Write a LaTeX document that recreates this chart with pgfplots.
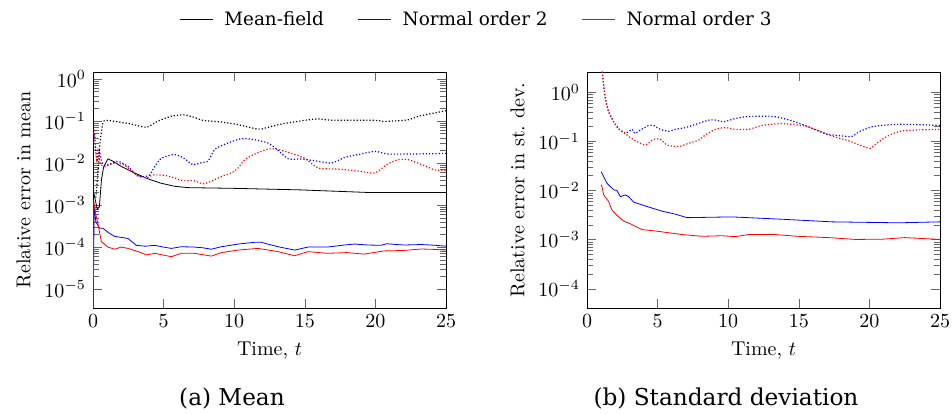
\documentclass[border=0pt]{standalone}
\usepackage{fontspec}
\usepackage{pgfplots}
\pgfplotsset{compat=1.18}
\newfontfamily\capfont{DejaVu Serif}
\begin{document}
\begin{tikzpicture}
\pgfplotsset{
  every axis/.append style={
    scale only axis, width=176.5pt, height=118pt,
    ymode=log, xmin=0, xmax=25, xtick={0,5,10,15,20,25},
    xlabel={Time, $t$}, anchor=south west,
    tick style={color=gray!80!black},
  },
  dotplot/.style={densely dotted, semithick, smooth, tension=0.4},
}
\begin{axis}[
  at={(46.5pt,-154pt)},
  ymin=3.55e-6, ymax=1.47,
  ytick={1e-5,1e-4,1e-3,1e-2,1e-1,1},
  ylabel={Relative error in mean},
  legend columns=3,
  legend style={draw=none, fill=none, at={(1.0836,1.222)}, anchor=center,
    font=\capfont\fontsize{9.2}{11}\selectfont,
    nodes={inner sep=0pt},
    /tikz/every odd column/.append style={column sep=5.5pt},
    /tikz/every even column/.append style={column sep=17pt}},
  legend image code/.code={\draw[#1] (0pt,0pt) -- (16.5pt,0pt);},
]
\addplot[black] coordinates {(0.05,0.002) (0.3,0.0008) (0.45,0.0009) (0.6,0.004) (0.75,0.008) (1.06,0.0126) (1.42,0.011) (2.0,0.0083) (2.95,0.0058) (3.9,0.0042) (4.84,0.0033) (5.78,0.0028) (6.73,0.0026) (10,0.0025) (14.66,0.0023) (19.4,0.0020) (25,0.0020)};
\addlegendentry{Mean-field}
\addplot[blue] coordinates {(0,1e-6) (0.08,0.001) (0.2,0.0004) (0.47,0.00028) (0.71,0.00028) (1.1,0.00022) (1.53,0.00018) (2.0,0.00017) (2.48,0.00016) (3.07,0.00011) (3.7,0.000105) (4.37,0.00011) (5.0,0.0001) (5.55,9.3e-5) (6.26,1.02e-4) (7.2,1.0e-4) (7.8,9.6e-5) (8.38,8.9e-5) (9.1,1.02e-4) (10.27,1.18e-4) (11.45,1.3e-4) (11.9,1.3e-4) (12.5,1.15e-4) (13.1,1.02e-4) (14.28,8.5e-5) (15.23,1.0e-4) (16.6,1.0e-4) (17.59,1.1e-4) (18.5,1.18e-4) (19.5,1.12e-4) (20.4,1.1e-4) (20.8,1.2e-4) (22,1.12e-4) (23.25,1.15e-4) (24.3,1.1e-4) (25,1.05e-4)};
\addlegendentry{Normal order 2}
\addplot[red] coordinates {(0,1e-6) (0.06,0.0012) (0.2,0.0006) (0.35,3.6e-4) (0.59,1.35e-4) (1.06,1.0e-4) (1.53,8.9e-5) (2.0,1.0e-4) (2.48,9.3e-5) (3.19,7.8e-5) (3.78,6.5e-5) (4.37,7.1e-5) (5.55,5.9e-5) (6.26,7.1e-5) (7.2,7.1e-5) (8.38,6.1e-5) (9.1,7.4e-5) (10.27,8.5e-5) (11.69,9.3e-5) (13.1,7.8e-5) (14.28,6.2e-5) (15.23,7.8e-5) (16.6,7.1e-5) (18.0,7.4e-5) (19.2,6.8e-5) (20.6,8.1e-5) (22,8.3e-5) (23.25,9.0e-5) (24.2,8.8e-5) (25,8.5e-5)};
\addlegendentry{Normal order 3}
\addplot[black, dotplot, forget plot] coordinates {(0.2,0.0015) (0.35,0.006) (0.5,0.03) (0.7,0.089) (0.95,0.104) (2.0,0.093) (2.7,0.085) (3.78,0.071) (4.6,0.10) (5.55,0.13) (6.37,0.141) (6.96,0.129) (7.79,0.104) (9.09,0.095) (10.27,0.082) (11.69,0.064) (12.18,0.068) (13.36,0.085) (15.25,0.107) (15.96,0.112) (16.9,0.105) (19.97,0.104) (20.68,0.098) (22.33,0.107) (23.04,0.13) (25,0.176)};
\addplot[blue, dotplot, forget plot] coordinates {(0.02,0.03) (0.1,0.05) (0.2,0.02) (0.3,0.012) (0.45,0.02) (0.6,0.011) (0.8,0.009) (1.2,0.0095) (1.77,0.011) (2.48,0.0083) (3.19,0.0048) (3.66,0.0048) (4.01,0.0052) (4.37,0.0083) (4.84,0.013) (5.78,0.016) (6.49,0.0127) (7.08,0.0091) (7.79,0.0105) (8.14,0.011) (8.62,0.021) (9.33,0.028) (10.5,0.038) (11.45,0.036) (12.4,0.030) (12.9,0.023) (13.83,0.0127) (14.78,0.0125) (15.96,0.011) (16.9,0.010) (17.85,0.0137) (18.79,0.016) (19.97,0.019) (20.9,0.0164) (23,0.0165) (25,0.017)};
\addplot[red, dotplot, forget plot] coordinates {(0.02,0.05) (0.08,0.06) (0.15,0.03) (0.25,0.012) (0.35,0.02) (0.5,0.01) (0.83,0.0083) (1.53,0.010) (2.24,0.0089) (2.95,0.0055) (3.4,0.0048) (3.78,0.0044) (4.25,0.0052) (5.07,0.0051) (5.78,0.0044) (6.37,0.0038) (7.15,0.0038) (7.79,0.0032) (8.38,0.0037) (9.09,0.0048) (9.8,0.0058) (10.27,0.0076) (10.74,0.012) (11.45,0.0164) (12.4,0.0215) (13.12,0.021) (14.07,0.017) (15.0,0.013) (15.96,0.0076) (17.37,0.0072) (19.03,0.0063) (19.97,0.0058) (20.8,0.0092) (21.62,0.012) (22.33,0.012) (23.28,0.0092) (24.2,0.0069) (25,0.0066)};
\end{axis}
\begin{axis}[
  at={(293.5pt,-154pt)},
  ymin=4.07e-5, ymax=2.57,
  ytick={1e-4,1e-3,1e-2,1e-1,1},
  ylabel={Relative error in st.\ dev.},
]
\addplot[blue] coordinates {(1.0,0.024) (1.06,0.0224) (1.42,0.014) (1.89,0.0103) (2.12,0.010) (2.36,0.0075) (2.71,0.0081) (2.95,0.0075) (3.3,0.0058) (4.37,0.0046) (5.31,0.0038) (6.26,0.0033) (7.08,0.0028) (10.27,0.0029) (13.8,0.0026) (17.35,0.0023) (22.07,0.0022) (25,0.0023)};
\addplot[red] coordinates {(1.0,0.013) (1.06,0.012) (1.18,0.0081) (1.53,0.006) (1.77,0.0040) (2.12,0.0031) (2.6,0.0024) (3.07,0.0021) (3.9,0.0016) (4.84,0.0015) (6.73,0.00127) (8.14,0.00117) (9.56,0.0012) (10.5,0.00115) (11.45,0.00127) (13.3,0.00127) (14.9,0.00117) (17.1,0.0011) (19.0,0.00101) (20.9,0.00102) (22.5,0.0011) (25,0.00101)};
\addplot[blue, dotplot] coordinates {(1.0,3.5) (1.06,3.0) (1.18,1.39) (1.30,0.75) (1.53,0.40) (1.89,0.25) (2.24,0.18) (2.71,0.145) (3.19,0.175) (3.4,0.145) (3.78,0.17) (4.37,0.21) (4.72,0.21) (5.19,0.175) (5.78,0.16) (6.26,0.175) (6.96,0.19) (7.67,0.22) (8.62,0.27) (9.1,0.27) (9.68,0.25) (10.5,0.29) (11.45,0.32) (13.2,0.32) (14.14,0.28) (15.08,0.23) (16.03,0.18) (16.97,0.14) (17.92,0.13) (18.74,0.125) (19.33,0.16) (20.27,0.20) (21.7,0.22) (23.1,0.22) (25,0.21)};
\addplot[red, dotplot] coordinates {(1.0,3.5) (1.06,3.0) (1.18,1.39) (1.30,0.75) (1.53,0.40) (1.89,0.25) (2.24,0.18) (2.71,0.145) (2.95,0.125) (3.54,0.099) (4.13,0.084) (4.72,0.11) (5.19,0.11) (5.67,0.084) (6.49,0.078) (7.2,0.091) (7.91,0.106) (8.38,0.134) (9.09,0.175) (9.8,0.19) (10.5,0.175) (11.45,0.175) (12.39,0.21) (13.67,0.23) (14.6,0.22) (15.56,0.20) (16.5,0.16) (17.44,0.125) (18.39,0.106) (19.33,0.084) (20.04,0.072) (20.52,0.091) (21.22,0.125) (22.17,0.16) (23.35,0.17) (25,0.175)};
\end{axis}
\node[font=\capfont\fontsize{11.6}{14}\selectfont] at (116pt,-199pt) {(a) Mean};
\node[font=\capfont\fontsize{11.6}{14}\selectfont] at (363pt,-199pt) {(b) Standard deviation};
\pgfresetboundingbox
\useasboundingbox (0pt,0pt) rectangle (476pt,-207.5pt);
\end{tikzpicture}
\end{document}
